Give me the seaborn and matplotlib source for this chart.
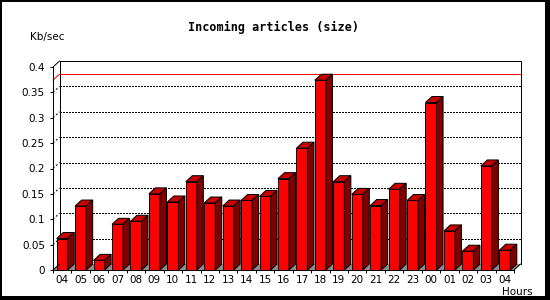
import numpy as np
import pandas as pd
import matplotlib
matplotlib.use("Agg")
import matplotlib.pyplot as plt
import seaborn as sns
from matplotlib.patches import Polygon, Rectangle
from matplotlib.lines import Line2D
from matplotlib.transforms import IdentityTransform

# ---- data ----
hours = ["04", "05", "06", "07", "08", "09", "10", "11", "12", "13", "14", "15",
         "16", "17", "18", "19", "20", "21", "22", "23", "00", "01", "02", "03", "04"]
kbps = [0.062, 0.126, 0.019, 0.090, 0.096, 0.150, 0.134, 0.174, 0.132, 0.126,
        0.137, 0.145, 0.180, 0.240, 0.374, 0.174, 0.149, 0.127, 0.159, 0.137,
        0.330, 0.077, 0.037, 0.205, 0.039]
yticks = [0, 0.05, 0.1, 0.15, 0.2, 0.25, 0.3, 0.35, 0.4]
ytick_labels = ["0", "0.05", "0.1", "0.15", "0.2", "0.25", "0.3", "0.35", "0.4"]
title = "Incoming articles (size)"
ylabel = "Kb/sec"
xlabel = "Hours"

sns.set_style("ticks")
plt.rcParams["font.family"] = ["DejaVu Sans"]

W, H = 550, 300
PX = 0.72  # one pixel in points at dpi 100
DX, DY = 6.5, 6.0  # 3D depth in pixels
FL, FR, FB, FT = 53, 514, 270, 67  # front plane in pixels (top-left origin)

fig = plt.figure(figsize=(W / 100, H / 100), dpi=100)
fig.patch.set_facecolor("white")


def box(l, r, b, t):
    return [l / W, 1 - b / H, (r - l) / W, (b - t) / H]


n = len(hours)
xpos = np.arange(n)
df = pd.DataFrame({"slot": xpos, "kbps": kbps})

# ---- back plane (grid, frame, max line) ----
back = fig.add_axes(box(FL + DX, FR + DX, FB - DY, FT - DY))
back.set_xlim(-0.5, n - 0.5)
back.set_ylim(0, 0.4)
back.set_yticks(yticks)
back.set_xticks([])
back.tick_params(left=False, labelleft=False, bottom=False, labelbottom=False)
back.grid(axis="y", color="black", linewidth=PX, linestyle=(0, (2, 2)),
          antialiased=False)
back.grid(axis="x", visible=False)
for s in ["top", "left", "right"]:
    back.spines[s].set_linewidth(PX)
    back.spines[s].set_color("black")
back.spines["bottom"].set_visible(False)
back.axhline(max(kbps), color="red", linewidth=PX, zorder=3)

# ---- front plane with bars ----
front = fig.add_axes(box(FL, FR, FB, FT))
front.patch.set_alpha(0)
sns.barplot(data=df, x="slot", y="kbps", ax=front, width=0.6, color="#ff0000",
            saturation=1, edgecolor="black", linewidth=PX, zorder=2)
front.set_xlim(-0.5, n - 0.5)
front.set_ylim(0, 0.4)
front.set_xlabel("")
front.set_ylabel("")
front.set_yticks(yticks, ytick_labels)
front.set_xticks(xpos, hours)
front.set_xticks(np.arange(-0.5, n, 1), minor=True)
front.tick_params(axis="y", left=True, direction="out", length=3 * PX, width=PX,
                  pad=5 * PX, labelsize=7.5, colors="black")
front.tick_params(axis="x", which="major", bottom=True, length=0, pad=5 * PX,
                  labelsize=7.5, colors="black")
front.tick_params(axis="x", which="minor", bottom=True, direction="out",
                  length=3 * PX, width=PX, color="black")
for s in ["top", "right"]:
    front.spines[s].set_visible(False)
for s in ["left", "bottom"]:
    front.spines[s].set_linewidth(PX)
    front.spines[s].set_color("black")
    front.spines[s].set_zorder(4)

ident = IdentityTransform()
bars = list(front.patches)

# floor (display px, origin bottom-left)
yb = H - FB
floor = Polygon([(FL, yb), (FR, yb), (FR + DX, yb + DY), (FL + DX, yb + DY)],
                closed=True, facecolor="#8c8c8c", edgecolor="none",
                transform=ident, clip_on=False, zorder=0.5)
front.add_artist(floor)

# 3D faces derived from the bars drawn by seaborn
for p in bars:
    bb = p.get_bbox()
    (x0, y0), (x1, y1) = front.transData.transform([(bb.x0, bb.y0), (bb.x1, bb.y1)])
    top = Polygon([(x0, y1), (x1, y1), (x1 + DX, y1 + DY), (x0 + DX, y1 + DY)],
                  closed=True, facecolor="#c80000", edgecolor="black",
                  linewidth=PX, transform=ident, clip_on=False, zorder=2)
    side = Polygon([(x1, y0), (x1 + DX, y0 + DY), (x1 + DX, y1 + DY), (x1, y1)],
                   closed=True, facecolor="#800000", edgecolor="black",
                   linewidth=PX, transform=ident, clip_on=False, zorder=2)
    front.add_artist(top)
    front.add_artist(side)


# depth connectors
def connector(value, **kw):
    (xa, ya) = front.transData.transform((-0.5, value))
    (xb, yb2) = back.transData.transform((-0.5, value))
    front.add_artist(Line2D([xa, xb], [ya, yb2], transform=ident, clip_on=False, **kw))


connector(0.4, color="black", linewidth=PX, zorder=3)
connector(0.0, color="black", linewidth=PX, zorder=3)
connector(max(kbps), color="red", linewidth=PX, zorder=3)
for v in yticks[1:-1]:
    connector(v, color="black", linewidth=PX, linestyle=(0, (2, 2)), zorder=1)
# bottom-right diagonal
(xa, ya) = front.transData.transform((n - 0.5, 0))
(xb, yb2) = back.transData.transform((n - 0.5, 0))
front.add_artist(Line2D([xa, xb], [ya, yb2], transform=ident, clip_on=False,
                        color="black", linewidth=PX, zorder=3))

# ---- texts ----
fig.text(274 / W, 1 - 27 / H, title, ha="center", va="center",
         family="DejaVu Sans Mono", weight="bold", size=8.5, color="black")
fig.text(30 / W, 1 - 37 / H, ylabel, ha="left", va="center", size=7.5, color="black")
fig.text(533 / W, 1 - 292 / H, xlabel, ha="right", va="center", size=7.5, color="black")

# ---- frame with shadow ----
for (x, y, w, h) in [(0, 0, 2, 300), (0, 0, 550, 2), (545, 0, 5, 300), (0, 296, 550, 4)]:
    fig.add_artist(Rectangle((x / W, 1 - (y + h) / H), w / W, h / H,
                             transform=fig.transFigure, facecolor="black",
                             edgecolor="none"))

fig.savefig("out.png", dpi=100, facecolor="white")
